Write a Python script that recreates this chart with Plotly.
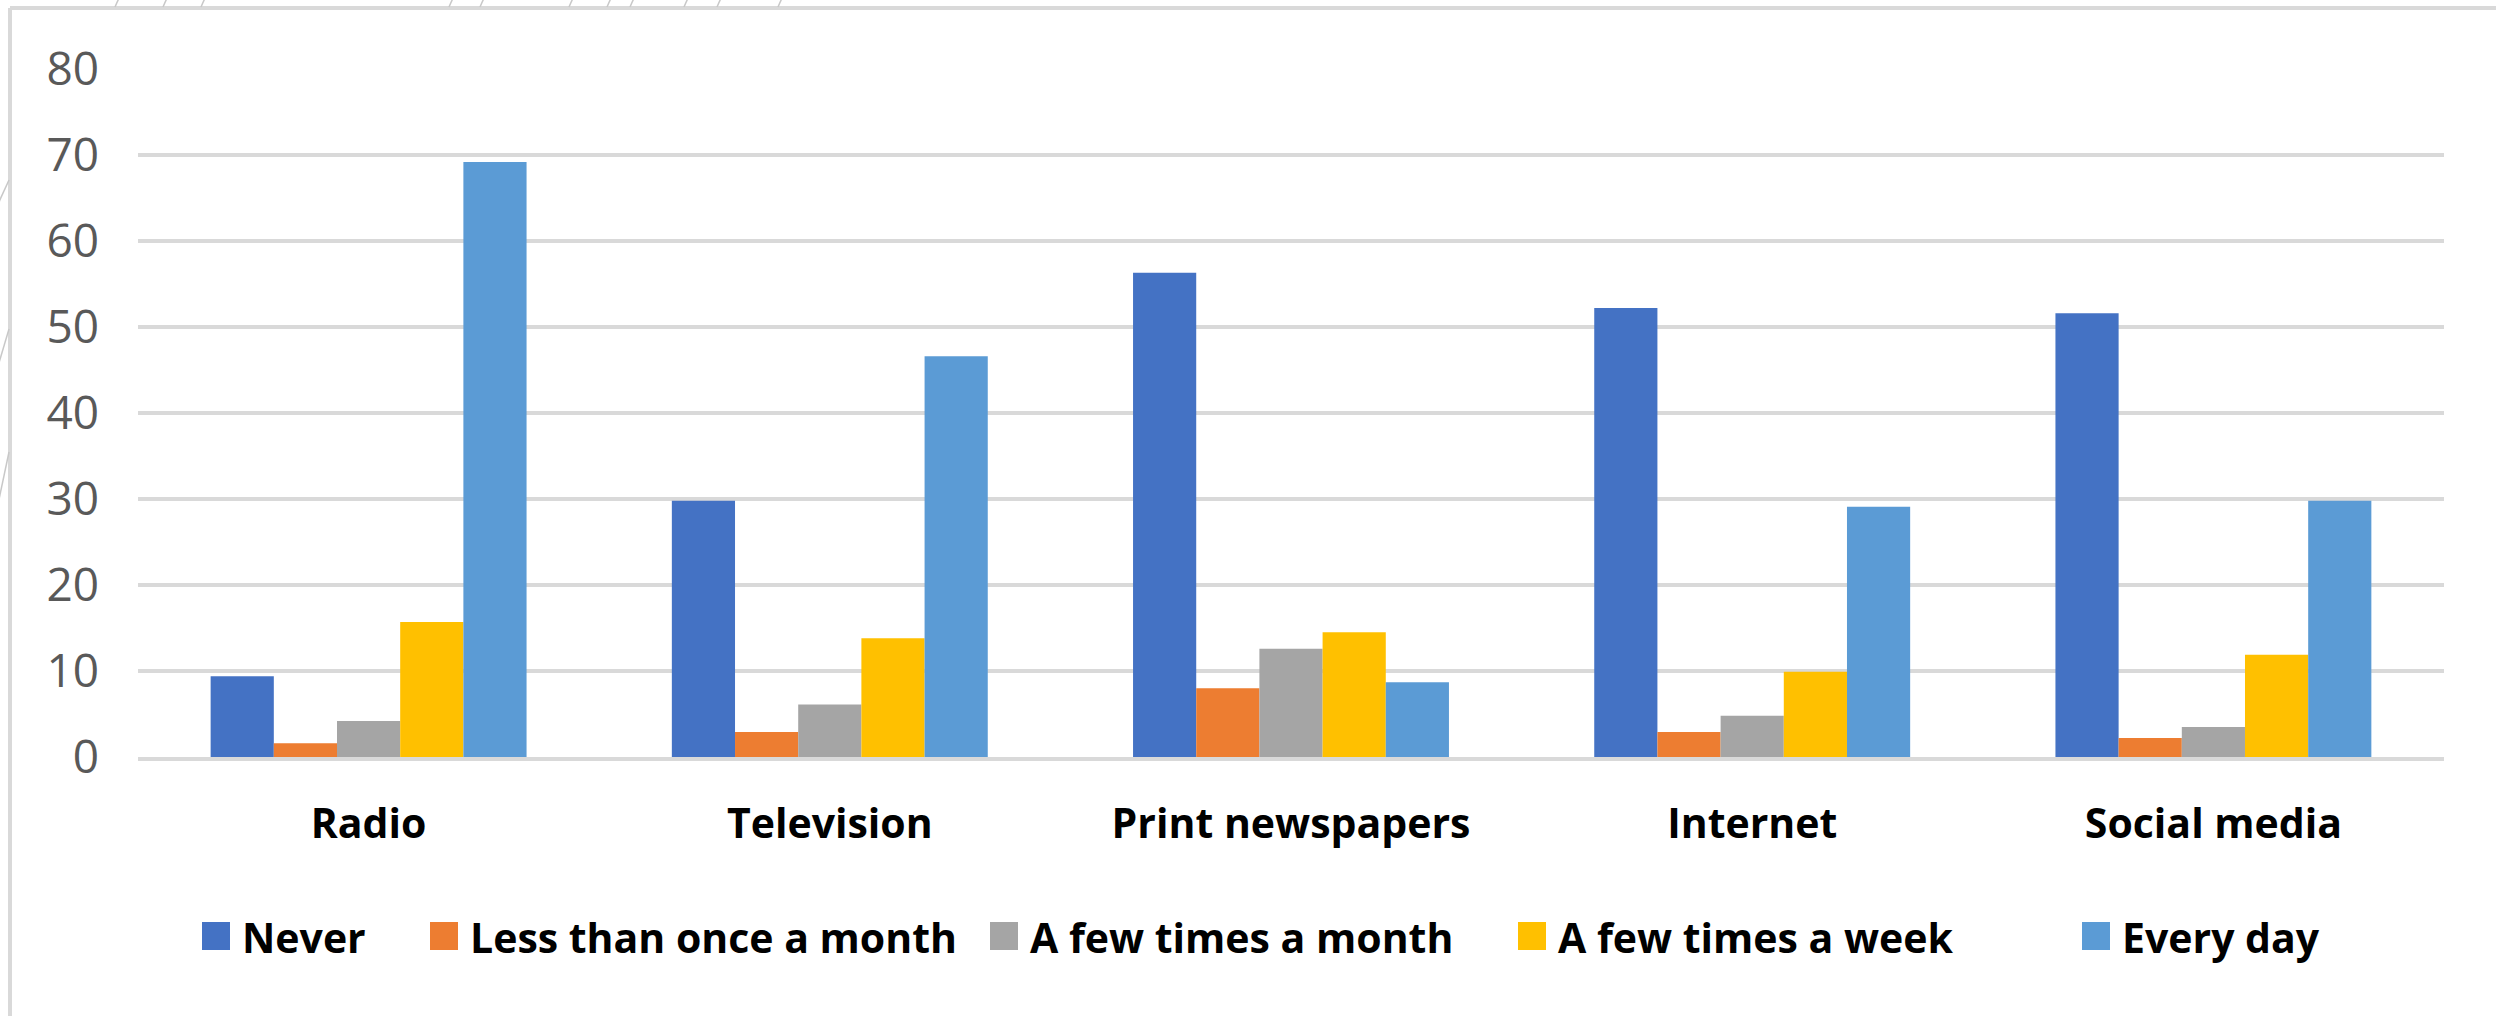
import plotly.graph_objects as go

# Media categories on the x axis
categories = ["Radio", "Television", "Print newspapers", "Internet", "Social media"]

# Frequency-of-use series (percent of respondents)
series_names = [
    "Never",
    "Less than once a month",
    "A few times a month",
    "A few times a week",
    "Every day",
]
never = [9.4, 29.8, 56.3, 52.2, 51.6]
less_than_monthly = [1.6, 2.9, 8.0, 2.9, 2.2]
few_times_month = [4.2, 6.1, 12.6, 4.8, 3.5]
few_times_week = [15.7, 13.8, 14.5, 9.9, 11.9]
every_day = [69.2, 46.6, 8.7, 29.1, 29.8]
series_values = [never, less_than_monthly, few_times_month, few_times_week, every_day]

y_ticks = [0, 10, 20, 30, 40, 50, 60, 70, 80]

colors = ["#4472C4", "#ED7D31", "#A5A5A5", "#FFC000", "#5B9BD5"]
grid_color = "#D9D9D9"

# Canvas and plot-area geometry (pixels)
W, H = 2496, 1016
ML, MR, MT, MB = 138, 52, 69, 259
PW = W - ML - MR
PH = H - MT - MB


def px_x(p):
    return (p - ML) / PW


def px_y(p):
    return 1 - (p - MT) / PH


fig = go.Figure()
for name, vals, col in zip(series_names, series_values, colors):
    fig.add_trace(
        go.Bar(
            name=name,
            x=categories,
            y=vals,
            marker=dict(color=col, line=dict(width=0)),
            showlegend=False,
        )
    )

shapes = []
# Chart-area frame (top and left edges)
shapes.append(dict(type="line", xref="paper", yref="paper",
                   x0=px_x(10), y0=px_y(8), x1=px_x(W + 5), y1=px_y(8),
                   line=dict(color=grid_color, width=4)))
shapes.append(dict(type="line", xref="paper", yref="paper",
                   x0=px_x(10), y0=px_y(8), x1=px_x(10), y1=px_y(H + 5),
                   line=dict(color=grid_color, width=4)))

# Faint hatch strokes along the top and left edges
hatch_top = [115, 163, 201, 449, 480, 569, 607, 630, 684, 717, 778]
for hx in hatch_top:
    shapes.append(dict(type="line", xref="paper", yref="paper",
                       x0=px_x(hx), y0=px_y(7), x1=px_x(hx + 4), y1=px_y(-2),
                       line=dict(color="#C8C8C8", width=1.5)))
hatch_left = [(200, 180), (362, 329), (500, 452)]
for y0, y1 in hatch_left:
    shapes.append(dict(type="line", xref="paper", yref="paper",
                       x0=px_x(-2), y0=px_y(y0 + 4), x1=px_x(9), y1=px_y(y1),
                       line=dict(color="#C8C8C8", width=1.5)))

# Legend row: colour squares with bold labels
legend_left = [202, 430, 990, 1518, 2082]
legend_cy = 936
sq = 28
annotations = []
for lx, name, col in zip(legend_left, series_names, colors):
    shapes.append(dict(type="rect", xref="paper", yref="paper",
                       x0=px_x(lx), x1=px_x(lx + sq),
                       y0=px_y(legend_cy + sq / 2), y1=px_y(legend_cy - sq / 2),
                       fillcolor=col, line=dict(width=0)))
    annotations.append(dict(xref="paper", yref="paper",
                            x=px_x(lx + 38), y=px_y(legend_cy + 1),
                            xanchor="left", yanchor="middle",
                            text=name, showarrow=False,
                            font=dict(family="Open Sans", size=41,
                                      color="#000000", weight="bold")))

fig.update_layout(
    width=W,
    height=H,
    margin=dict(l=ML, r=MR, t=MT, b=MB, pad=0),
    paper_bgcolor="white",
    plot_bgcolor="white",
    barmode="group",
    bargap=0.315,
    bargroupgap=0,
    showlegend=False,
    shapes=shapes,
    annotations=annotations,
    xaxis=dict(
        showgrid=False,
        showline=True,
        linecolor=grid_color,
        linewidth=4,
        ticks="",
        ticklabelstandoff=28,
        tickfont=dict(family="Open Sans", size=41, color="#000000", weight="bold"),
    ),
    yaxis=dict(
        range=[0, 80],
        tickvals=y_ticks,
        showgrid=True,
        gridcolor=grid_color,
        gridwidth=4,
        zeroline=False,
        showline=False,
        ticks="",
        ticklabelstandoff=38,
        tickfont=dict(family="Open Sans", size=46, color="#595959"),
    ),
)

fig.write_html("out.html")
